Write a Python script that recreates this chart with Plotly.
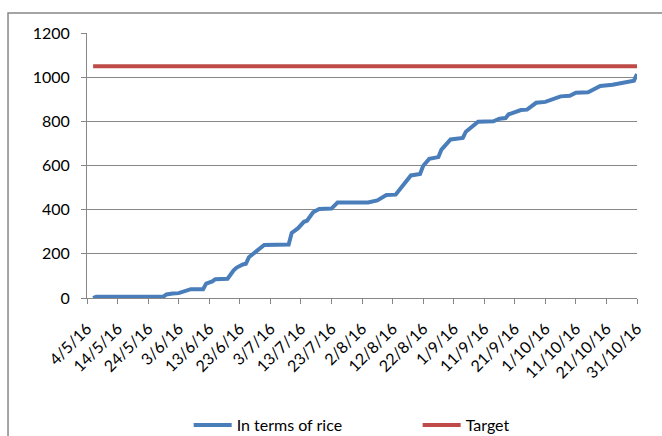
import plotly.graph_objects as go

# ---- data ----
rice_dates = [
    "2016-05-06", "2016-05-07", "2016-05-29", "2016-05-30", "2016-06-01", "2016-06-03",
    "2016-06-07", "2016-06-11", "2016-06-12", "2016-06-14", "2016-06-15", "2016-06-19",
    "2016-06-21", "2016-06-22", "2016-06-24", "2016-06-25", "2016-06-26", "2016-06-29",
    "2016-07-01", "2016-07-09", "2016-07-10", "2016-07-12", "2016-07-14", "2016-07-15",
    "2016-07-17", "2016-07-19", "2016-07-23", "2016-07-25", "2016-08-04", "2016-08-07",
    "2016-08-10", "2016-08-13", "2016-08-16", "2016-08-18", "2016-08-21", "2016-08-22",
    "2016-08-24", "2016-08-27", "2016-08-28", "2016-08-31", "2016-09-04", "2016-09-05",
    "2016-09-09", "2016-09-14", "2016-09-16", "2016-09-18", "2016-09-19", "2016-09-23",
    "2016-09-25", "2016-09-28", "2016-10-01", "2016-10-06", "2016-10-09", "2016-10-11",
    "2016-10-15", "2016-10-19", "2016-10-23", "2016-10-25", "2016-10-28", "2016-10-30",
    "2016-10-31",
]
rice_values = [
    0, 6, 6, 16, 20, 22,
    40, 40, 65, 75, 85, 87,
    125, 138, 152, 155, 185, 215,
    240, 242, 295, 315, 345, 350,
    388, 403, 405, 432, 433, 442,
    466, 468, 518, 555, 562, 598,
    630, 638, 672, 718, 725, 753,
    798, 800, 812, 815, 832, 851,
    853, 884, 888, 913, 916, 930,
    932, 960, 966, 972, 982, 984,
    1014,
]
target_dates = ["2016-05-06", "2016-10-31"]
target_values = [1050, 1050]

tick_dates = [
    "2016-05-04", "2016-05-14", "2016-05-24", "2016-06-03", "2016-06-13", "2016-06-23",
    "2016-07-03", "2016-07-13", "2016-07-23", "2016-08-02", "2016-08-12", "2016-08-22",
    "2016-09-01", "2016-09-11", "2016-09-21", "2016-10-01", "2016-10-11", "2016-10-21",
    "2016-10-31",
]
tick_labels = [
    "4/5/16", "14/5/16", "24/5/16", "3/6/16", "13/6/16", "23/6/16",
    "3/7/16", "13/7/16", "23/7/16", "2/8/16", "12/8/16", "22/8/16",
    "1/9/16", "11/9/16", "21/9/16", "1/10/16", "11/10/16", "21/10/16",
    "31/10/16",
]
y_ticks = [0, 200, 400, 600, 800, 1000, 1200]

FONT = "Lato"
GRAY = "#878787"

fig = go.Figure()
fig.add_trace(go.Scatter(
    x=rice_dates, y=rice_values, mode="lines", name="In terms of rice",
    line=dict(color="#4A7EBB", width=4),
))
fig.add_trace(go.Scatter(
    x=target_dates, y=target_values, mode="lines", name="Target",
    line=dict(color="#BE4B48", width=4),
))

fig.update_layout(
    width=662, height=436,
    margin=dict(l=87, r=25, t=33, b=138, autoexpand=False),
    paper_bgcolor="white", plot_bgcolor="white",
    font=dict(family=FONT, size=16, color="#000000"),
    showlegend=True,
    legend=dict(
        orientation="h", xref="container", yref="container",
        x=0.285, xanchor="left", y=0.025, yanchor="middle",
        itemwidth=38, entrywidth=176, entrywidthmode="pixels",
        font=dict(family=FONT, size=16, color="#000000"),
        bgcolor="rgba(0,0,0,0)",
    ),
    shapes=[dict(
        type="rect", xref="paper", yref="paper",
        x0=-0.1436, x1=1.07, y0=-0.6, y1=1.0755,
        line=dict(color=GRAY, width=1.5), fillcolor="rgba(0,0,0,0)", layer="below",
    )],
)
fig.update_xaxes(
    type="date", range=["2016-05-04", "2016-10-31"],
    tickmode="array", tickvals=tick_dates, ticktext=tick_labels,
    tickangle=-45, showgrid=False, showline=True, linecolor=GRAY, linewidth=1,
    ticks="outside", ticklen=5, tickwidth=1, tickcolor=GRAY, zeroline=False,
    automargin=False, ticklabelstandoff=9,
    tickfont=dict(family=FONT, size=16, color="#000000"),
)
fig.update_yaxes(
    range=[0, 1200], tickmode="array", tickvals=y_ticks,
    showgrid=True, gridcolor=GRAY, gridwidth=1,
    showline=True, linecolor=GRAY, linewidth=1,
    ticks="outside", ticklen=5, tickcolor=GRAY, zeroline=False, automargin=False,
    ticklabelstandoff=8,
    tickfont=dict(family=FONT, size=16, color="#000000"),
)

fig.write_html(
    "out.html",
    config={"displayModeBar": False},
    post_script="document.body.style.margin='0';document.body.style.overflow='hidden';",
)
